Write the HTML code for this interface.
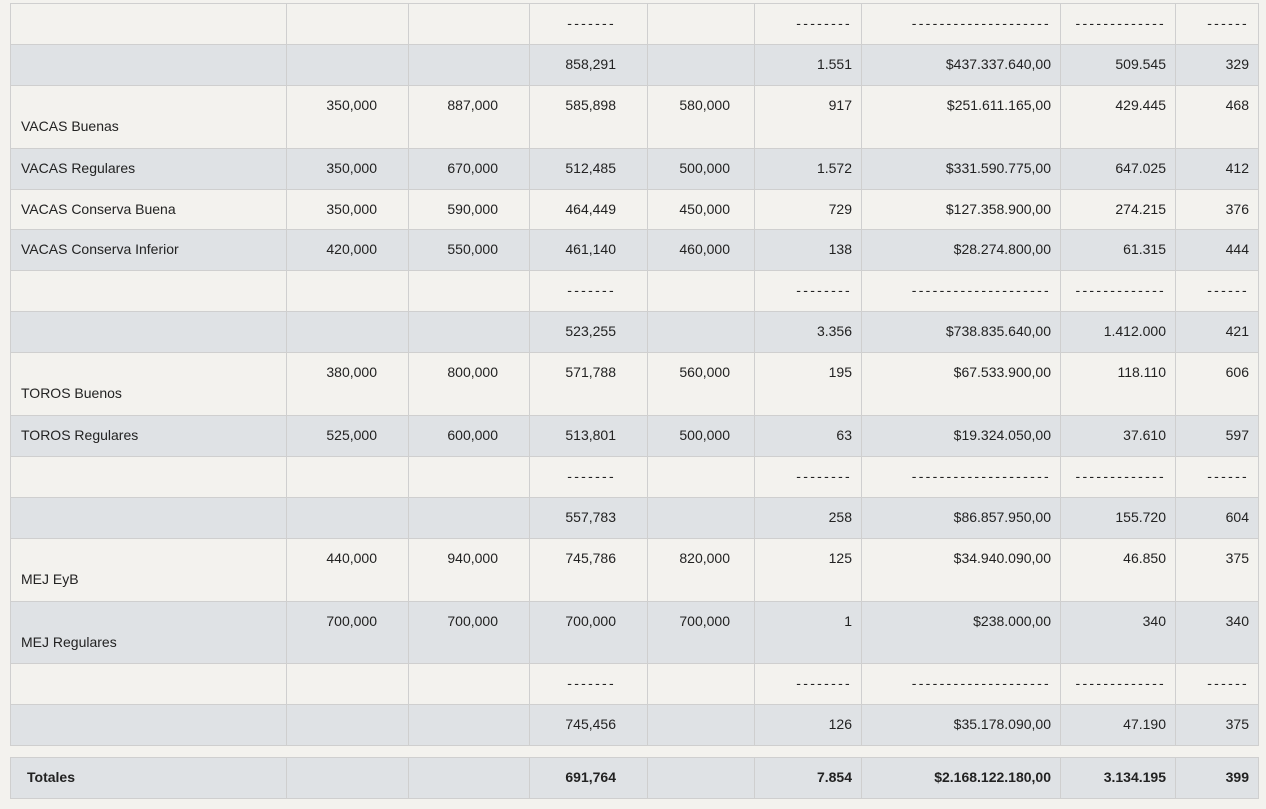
<!DOCTYPE html>
<html><head><style>
body{margin:0;background:#f3f2ee;width:1266px;height:809px;overflow:hidden;font-family:"Liberation Sans",sans-serif;font-size:14px;color:#222;}
table{position:absolute;left:10px;border-collapse:collapse;table-layout:fixed;width:1248px;}
td{border:1px solid #cfcfcf;padding:0 9px 0 0;text-align:right;vertical-align:top;padding-top:11px;line-height:17px;box-sizing:border-box;}
td:first-child{text-align:left;padding-left:10px;}
td:nth-child(2),td:nth-child(3),td:nth-child(4){padding-right:31px;}
td:nth-child(5){padding-right:24px;}
tr{height:40.9px;}
tr.t{height:62.9px;}
tr.t td:first-child{padding-top:32px;}
tr.g{background:#dfe2e5;}
.d{letter-spacing:2.3px;}
#tot td{font-weight:bold;background:#dfe2e5;}
#tot td:first-child{padding-left:16px;}
</style></head><body>
<table id="m" style="top:3px">
<colgroup><col style="width:276px"><col style="width:122px"><col style="width:121px"><col style="width:118px"><col style="width:107px"><col style="width:107px"><col style="width:199px"><col style="width:115px"><col style="width:83px"></colgroup>
<tr><td></td><td></td><td></td><td class="d">-------</td><td></td><td class="d">--------</td><td class="d">--------------------</td><td class="d">-------------</td><td class="d">------</td></tr>
<tr class="g"><td></td><td></td><td></td><td>858,291</td><td></td><td>1.551</td><td>$437.337.640,00</td><td>509.545</td><td>329</td></tr>
<tr class="t"><td>VACAS Buenas</td><td>350,000</td><td>887,000</td><td>585,898</td><td>580,000</td><td>917</td><td>$251.611.165,00</td><td>429.445</td><td>468</td></tr>
<tr class="g"><td>VACAS Regulares</td><td>350,000</td><td>670,000</td><td>512,485</td><td>500,000</td><td>1.572</td><td>$331.590.775,00</td><td>647.025</td><td>412</td></tr>
<tr><td>VACAS Conserva Buena</td><td>350,000</td><td>590,000</td><td>464,449</td><td>450,000</td><td>729</td><td>$127.358.900,00</td><td>274.215</td><td>376</td></tr>
<tr class="g"><td>VACAS Conserva Inferior</td><td>420,000</td><td>550,000</td><td>461,140</td><td>460,000</td><td>138</td><td>$28.274.800,00</td><td>61.315</td><td>444</td></tr>
<tr><td></td><td></td><td></td><td class="d">-------</td><td></td><td class="d">--------</td><td class="d">--------------------</td><td class="d">-------------</td><td class="d">------</td></tr>
<tr class="g"><td></td><td></td><td></td><td>523,255</td><td></td><td>3.356</td><td>$738.835.640,00</td><td>1.412.000</td><td>421</td></tr>
<tr class="t"><td>TOROS Buenos</td><td>380,000</td><td>800,000</td><td>571,788</td><td>560,000</td><td>195</td><td>$67.533.900,00</td><td>118.110</td><td>606</td></tr>
<tr class="g"><td>TOROS Regulares</td><td>525,000</td><td>600,000</td><td>513,801</td><td>500,000</td><td>63</td><td>$19.324.050,00</td><td>37.610</td><td>597</td></tr>
<tr><td></td><td></td><td></td><td class="d">-------</td><td></td><td class="d">--------</td><td class="d">--------------------</td><td class="d">-------------</td><td class="d">------</td></tr>
<tr class="g"><td></td><td></td><td></td><td>557,783</td><td></td><td>258</td><td>$86.857.950,00</td><td>155.720</td><td>604</td></tr>
<tr class="t"><td>MEJ EyB</td><td>440,000</td><td>940,000</td><td>745,786</td><td>820,000</td><td>125</td><td>$34.940.090,00</td><td>46.850</td><td>375</td></tr>
<tr class="t g"><td>MEJ Regulares</td><td>700,000</td><td>700,000</td><td>700,000</td><td>700,000</td><td>1</td><td>$238.000,00</td><td>340</td><td>340</td></tr>
<tr><td></td><td></td><td></td><td class="d">-------</td><td></td><td class="d">--------</td><td class="d">--------------------</td><td class="d">-------------</td><td class="d">------</td></tr>
<tr class="g"><td></td><td></td><td></td><td>745,456</td><td></td><td>126</td><td>$35.178.090,00</td><td>47.190</td><td>375</td></tr>
</table>
<table id="tot" style="top:757px">
<colgroup><col style="width:276px"><col style="width:122px"><col style="width:121px"><col style="width:118px"><col style="width:107px"><col style="width:107px"><col style="width:199px"><col style="width:115px"><col style="width:83px"></colgroup>
<tr><td>Totales</td><td></td><td></td><td>691,764</td><td></td><td>7.854</td><td>$2.168.122.180,00</td><td>3.134.195</td><td>399</td></tr>
</table>
</body></html>
